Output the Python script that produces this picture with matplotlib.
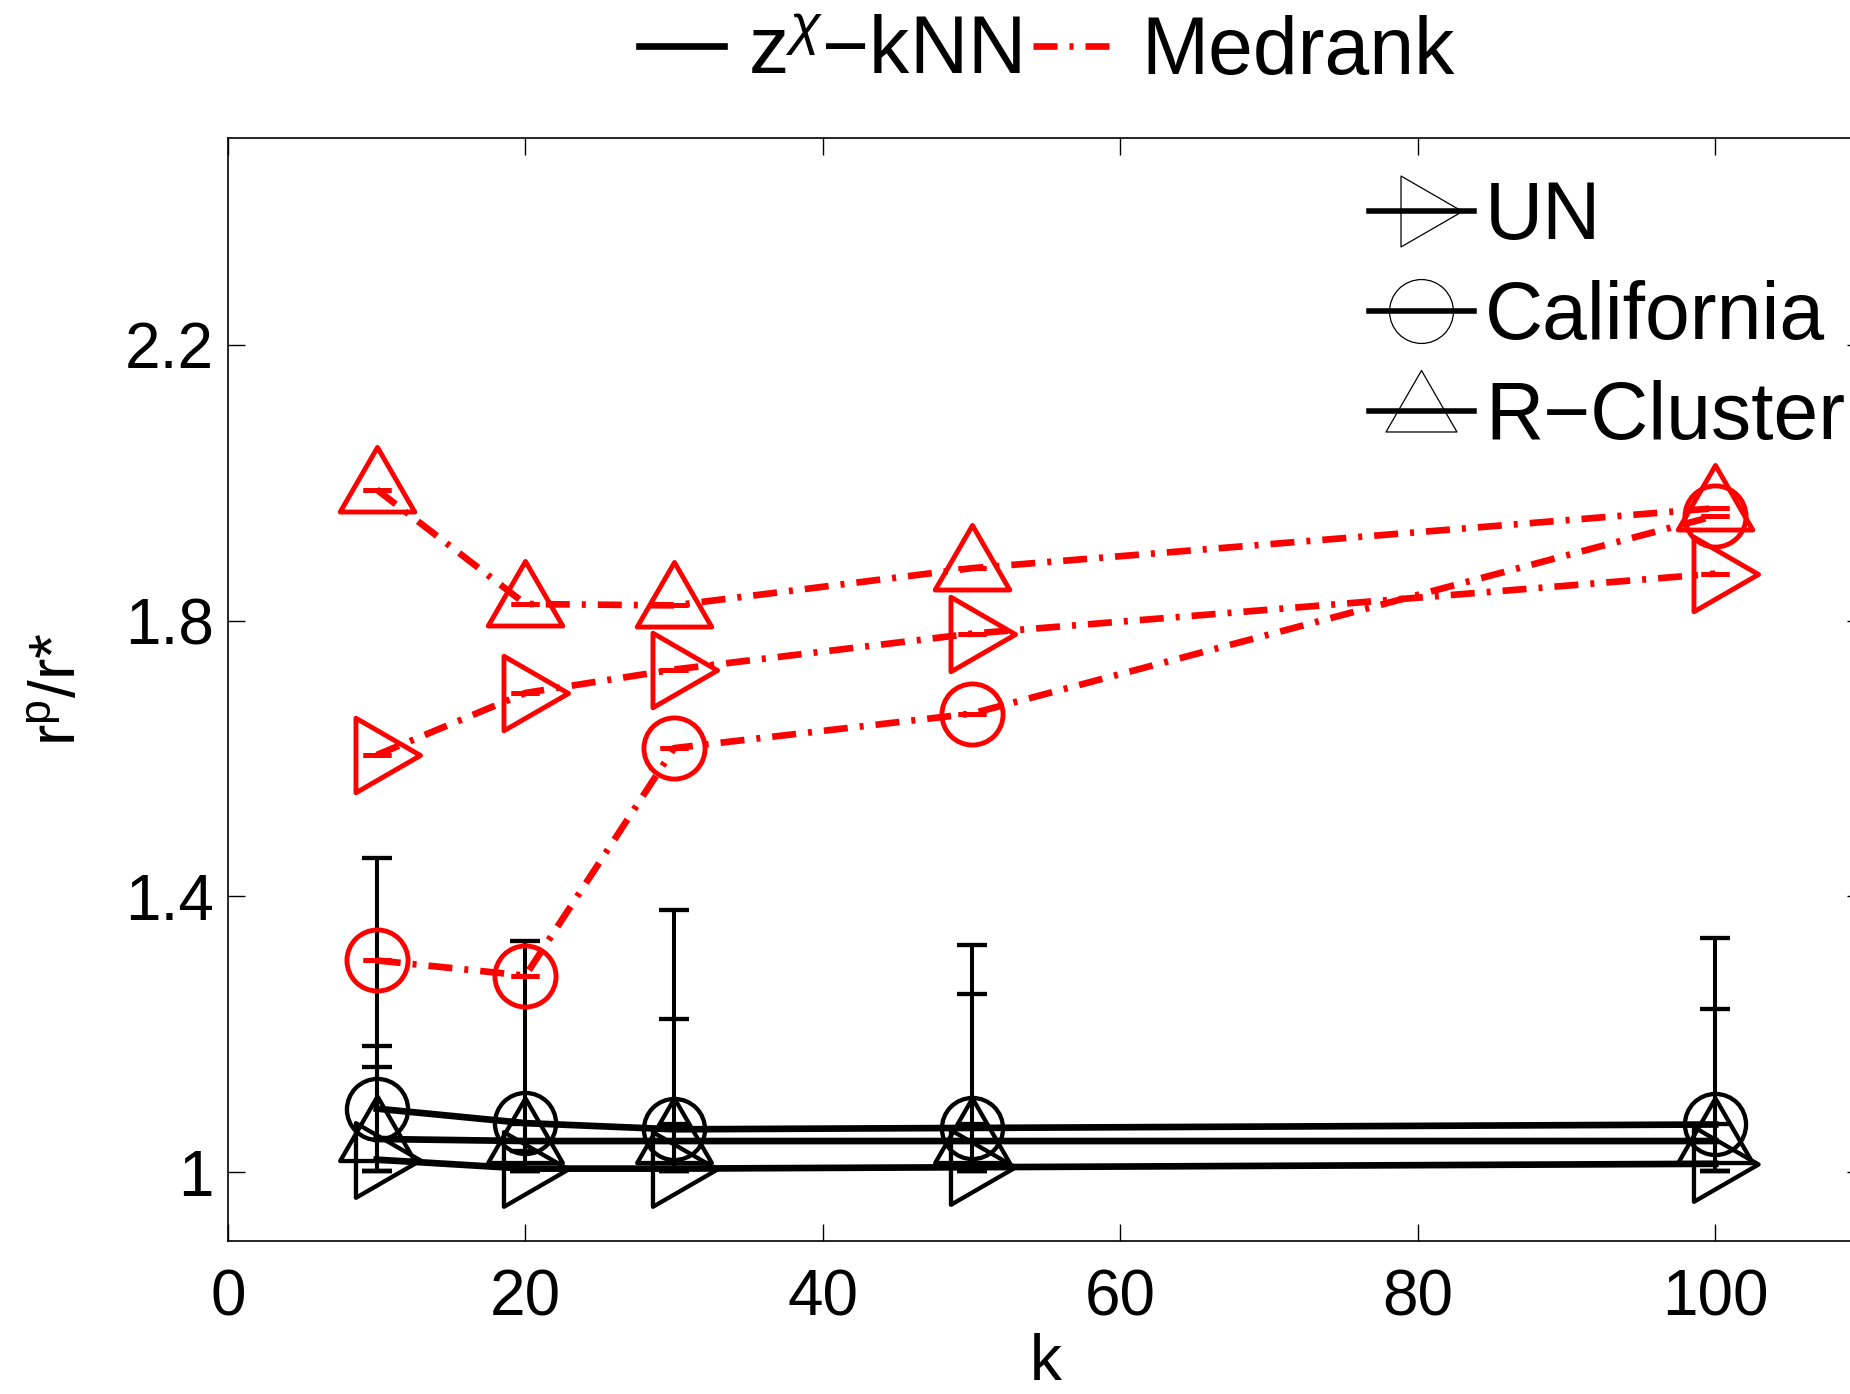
import matplotlib
matplotlib.use("Agg")
import matplotlib.pyplot as plt
from matplotlib.path import Path
from matplotlib.lines import Line2D

plt.rcParams['font.family'] = ['Liberation Sans', 'DejaVu Sans']
plt.rcParams['mathtext.fontset'] = 'custom'
plt.rcParams['mathtext.rm'] = 'Liberation Sans'
plt.rcParams['mathtext.it'] = 'Liberation Sans:italic'
plt.rcParams['mathtext.default'] = 'regular'

# data
k = [10, 20, 30, 50, 100]

# z^chi-kNN (black, with min/max error bars)
zknn_un = [1.018, 1.005, 1.005, 1.007, 1.012]
zknn_cal = [1.092, 1.071, 1.062, 1.064, 1.069]
zknn_rc = [1.048, 1.045, 1.045, 1.045, 1.045]
zknn_un_max = [1.183, 1.03, 1.222, 1.259, 1.236]
zknn_cal_max = [1.455, 1.335, 1.380, 1.329, 1.339]
zknn_rc_max = [1.153, 1.07, 1.07, 1.07, 1.07]
zknn_min = [1.002, 1.002, 1.002, 1.002, 1.002]

# Medrank (red)
med_un = [1.605, 1.695, 1.729, 1.781, 1.868]
med_cal = [1.307, 1.285, 1.615, 1.665, 1.952]
med_rc = [1.990, 1.824, 1.822, 1.876, 1.963]
med_err = [0, 0, 0, 0, 0]

xticks = [0, 20, 40, 60, 80, 100]
yticks = [1, 1.4, 1.8, 2.2]
yticklabels = ['1', '1.4', '1.8', '2.2']

# matlab-like triangles (equilateral, centred on centroid)
tri_right = Path([(1, 0), (-0.5, 0.866), (-0.5, -0.866), (1, 0)], closed=True)
tri_up = Path([(0, 1), (-0.866, -0.5), (0.866, -0.5), (0, 1)], closed=True)
tri_ms = 62
circ_ms = 44
dashdot = (0, (3.6, 1.8, 0.6, 1.8))

fig = plt.figure(figsize=(18.5, 13.94), dpi=100)
ax = fig.add_axes([228 / 1850, 153 / 1394, (1864 - 228) / 1850, (1241 - 138) / 1394])


def werr(y, lo, hi):
    return [[a - b for a, b in zip(y, lo)], [c - a for a, c in zip(y, hi)]]


black = [(zknn_un, zknn_un_max, tri_right, tri_ms),
         (zknn_cal, zknn_cal_max, 'o', circ_ms),
         (zknn_rc, zknn_rc_max, tri_up, tri_ms)]
for y, ymax, m, ms in black:
    ax.errorbar(k, y, yerr=werr(y, zknn_min, ymax), color='k', lw=4.8,
                marker=m, ms=ms, mfc='none', mec='k', mew=3.1,
                capsize=11, capthick=3.2, elinewidth=2.9)

red = [(med_un, tri_right, tri_ms), (med_cal, 'o', circ_ms), (med_rc, tri_up, tri_ms)]
for y, m, ms in red:
    ax.errorbar(k, y, yerr=[med_err, med_err], color='red', lw=4.8, ls=dashdot,
                marker=m, ms=ms, mfc='none', mec='red', mew=3.5,
                capsize=10, capthick=4, elinewidth=3)

ax.set_xlim(0, 110)
ax.set_ylim(0.9, 2.5)
ax.set_xticks(xticks)
ax.set_yticks(yticks)
ax.set_yticklabels(yticklabels)
ax.tick_params(direction='in', length=12, width=1, top=True, right=True, labelsize=46)
ax.tick_params(axis='x', pad=20)
ax.tick_params(axis='y', pad=10)
for s in ax.spines.values():
    s.set_linewidth(1.2)

ax.set_xlabel('k', fontsize=46, labelpad=3)
ax.set_ylabel('r$^{p}$/r*', fontsize=46)
ax.yaxis.set_label_coords(-0.085, 0.5)

# marker legend inside
mk_handles = [Line2D([], [], color='k', lw=4, marker=tri_right, ms=tri_ms - 3, mfc='none', mew=0.9),
              Line2D([], [], color='k', lw=4, marker='o', ms=circ_ms + 2, mfc='none', mew=0.9),
              Line2D([], [], color='k', lw=4, marker=tri_up, ms=tri_ms - 3, mfc='none', mew=0.9)]
ax.legend(mk_handles, ['UN', 'California', 'R\u2212Cluster'], loc='upper left',
          bbox_to_anchor=(0.740, 0.871), bbox_transform=fig.transFigure,
          frameon=False, fontsize=58, handlelength=1.3, handletextpad=0.14,
          labelspacing=0.3, borderpad=0, borderaxespad=0, numpoints=1)

# method legend on top
m_handles = [Line2D([], [], color='k', lw=4.8),
             Line2D([], [], color='red', lw=4.8, ls=dashdot)]
fig.legend(m_handles, ['z$^{\\mathit{\\chi}}$\u2212kNN', 'Medrank'], loc='center',
           bbox_to_anchor=(0.566, 0.962), ncol=2, frameon=False, fontsize=58,
           handlelength=1.05, handletextpad=0.3, columnspacing=0.15, borderpad=0)

fig.savefig('out.png', dpi=100)
